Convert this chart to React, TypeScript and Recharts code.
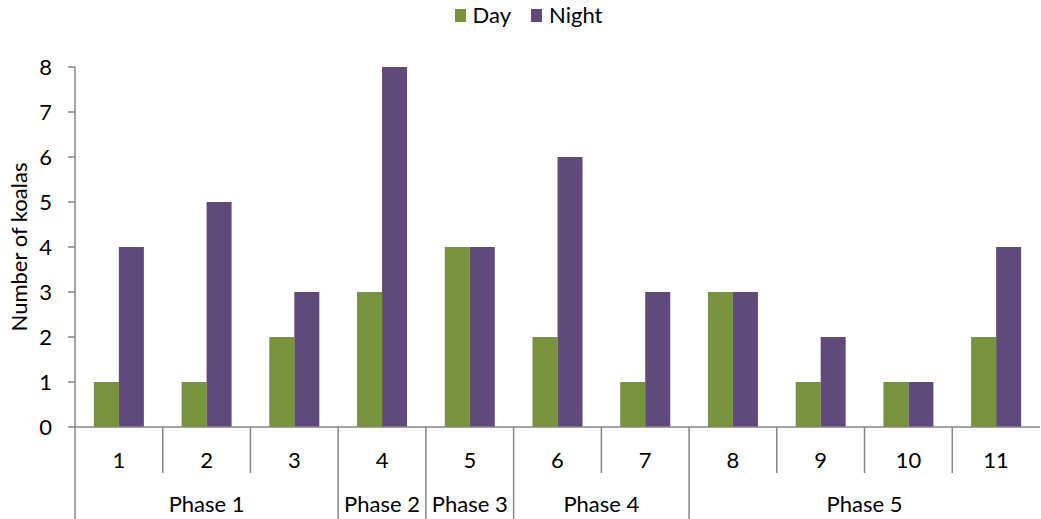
import { BarChart, Bar, XAxis, YAxis } from "recharts";

const categories = ["1", "2", "3", "4", "5", "6", "7", "8", "9", "10", "11"];
const dayValues = [1, 1, 2, 3, 4, 2, 1, 3, 1, 1, 2];
const nightValues = [4, 5, 3, 8, 4, 6, 3, 3, 2, 1, 4];
const phaseNames = ["Phase 1", "Phase 2", "Phase 3", "Phase 4", "Phase 5"];
const phaseSpans = [3, 1, 1, 2, 4];
const yTicks = [0, 1, 2, 3, 4, 5, 6, 7, 8];

const WIDTH = 1041;
const HEIGHT = 519;
const MARGIN = { top: 67, right: 1, bottom: 0, left: 0 };
const X_AXIS_HEIGHT = 92;
const Y_AXIS_WIDTH = 75;
const PLOT_WIDTH = WIDTH - MARGIN.left - MARGIN.right - Y_AXIS_WIDTH;
const BAND = PLOT_WIDTH / categories.length;

const GREEN = "#77933C";
const PURPLE = "#604A7B";
const AXIS = "#868686";
const FONT = "Lato, 'Open Sans', sans-serif";
const FS = 22;

const data = categories.map((c, i) => ({ cat: c, day: dayValues[i], night: nightValues[i] }));

// index of first category in each phase
const phaseStarts: number[] = [];
phaseSpans.reduce((acc, span) => {
  phaseStarts.push(acc);
  return acc + span;
}, 0);

function CategoryTick(props: any) {
  const { x, y, payload, index } = props;
  const left = x - BAND / 2;
  const phaseIdx = phaseStarts.indexOf(index);
  const isPhaseStart = phaseIdx >= 0;
  return (
    <g>
      <line x1={left} y1={y - 8} x2={left} y2={isPhaseStart ? HEIGHT : y + 38} stroke={AXIS} strokeWidth={1.5} />
      <text x={x} y={y + 33} textAnchor="middle" fontSize={FS} fill="#000" fontFamily={FONT}>
        {payload.value}
      </text>
      {isPhaseStart && (
        <text
          x={left + (phaseSpans[phaseIdx] * BAND) / 2}
          y={y + 77}
          textAnchor="middle"
          fontSize={FS}
          fill="#000"
          fontFamily={FONT}
        >
          {phaseNames[phaseIdx]}
        </text>
      )}
    </g>
  );
}

const legendItems = [
  { name: "Day", color: GREEN },
  { name: "Night", color: PURPLE },
];

function LegendBox() {
  return (
    <div
      style={{
        position: "absolute",
        top: 1,
        left: 0,
        width: WIDTH,
        display: "flex",
        justifyContent: "center",
        gap: 20,
        fontFamily: FONT,
        fontSize: FS,
        lineHeight: "28px",
        paddingLeft: 16,
        boxSizing: "border-box",
      }}
    >
      {legendItems.map((it) => (
        <div key={it.name} style={{ display: "flex", alignItems: "center" }}>
          <span style={{ display: "inline-block", width: 11, height: 13, background: it.color, marginRight: 7 }} />
          <span>{it.name}</span>
        </div>
      ))}
    </div>
  );
}

export default function App() {
  return (
    <div style={{ position: "absolute", left: 0, top: 0, width: WIDTH, height: HEIGHT, background: "#fff" }}>
      <BarChart width={WIDTH} height={HEIGHT} data={data} margin={MARGIN} barGap={0} barCategoryGap="21.5%">
        <XAxis
          dataKey="cat"
          axisLine={{ stroke: AXIS, strokeWidth: 1.5 }}
          tickLine={false}
          interval={0}
          tick={<CategoryTick />}
          height={X_AXIS_HEIGHT}
        />
        <YAxis
          domain={[0, 8]}
          ticks={yTicks}
          width={Y_AXIS_WIDTH}
          axisLine={{ stroke: AXIS, strokeWidth: 1.5 }}
          tickLine={{ stroke: AXIS, strokeWidth: 1.5 }}
          tickSize={7}
          tickMargin={16}
          tick={{ fontSize: FS, fill: "#000", fontFamily: FONT }}
          label={{
            value: "Number of koalas",
            angle: -90,
            position: "insideLeft",
            dx: 14,
            style: { textAnchor: "middle", fontSize: FS, fill: "#000", fontFamily: FONT },
          }}
        />
        <Bar dataKey="day" name="Day" fill={GREEN} isAnimationActive={false} />
        <Bar dataKey="night" name="Night" fill={PURPLE} isAnimationActive={false} />
      </BarChart>
      <LegendBox />
    </div>
  );
}
